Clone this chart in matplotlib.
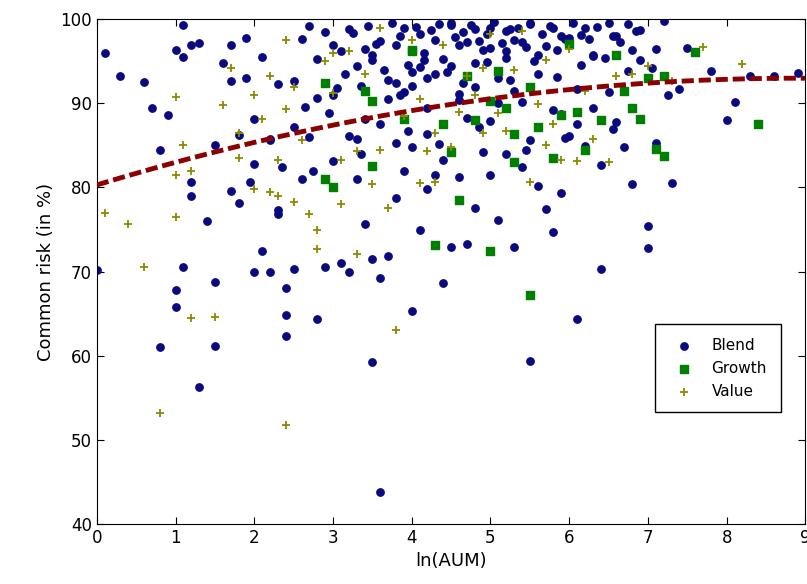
import matplotlib
matplotlib.use("Agg")
import matplotlib.pyplot as plt
import numpy as np

# Blend funds: ln(AUM), common risk (%)
blend_x = [0.0, 0.1, 0.3, 0.6, 0.7, 0.8, 0.8, 0.9, 1.0, 1.0, 1.0, 1.1, 1.1, 1.1, 1.2, 1.2, 1.3,
           1.3, 1.4, 1.5, 1.5, 1.5, 1.6, 1.7, 1.7, 1.8, 1.8, 1.9, 1.9, 2.0, 2.0, 2.0, 2.1, 2.1,
           2.2, 2.2, 2.3, 2.3, 2.3, 2.4, 2.4, 2.4, 2.5, 2.5, 2.6, 2.6, 2.7, 2.7, 2.8, 2.8, 2.9,
           2.9, 3.0, 3.0, 3.1, 3.1, 3.2, 3.2, 3.3, 3.3, 3.3, 3.4, 3.4, 3.5, 3.5, 3.5, 3.6, 3.6,
           3.6, 3.7, 3.7, 3.8, 3.8, 3.8, 3.9, 3.9, 4.0, 4.0, 4.0, 4.1, 4.1, 4.2, 4.2, 4.2, 4.3,
           4.3, 4.4, 4.4, 4.4, 4.5, 4.5, 4.6, 4.6, 4.6, 4.7, 4.7, 4.8, 4.8, 4.8, 4.9, 4.9, 5.0,
           5.0, 5.0, 5.1, 5.1, 5.2, 5.2, 5.2, 5.3, 5.3, 5.4, 5.4, 5.5, 5.5, 5.5, 5.6, 5.6, 5.7,
           5.7, 5.8, 5.8, 5.9, 5.9, 6.0, 6.0, 6.1, 6.1, 6.2, 6.2, 6.3, 6.4, 6.4, 6.5, 6.5, 6.6,
           6.7, 6.8, 6.8, 6.9, 7.0, 7.0, 7.1, 7.1, 7.2, 7.3, 7.4, 7.5, 7.8, 8.0, 8.1, 8.3, 8.6,
           8.9, 3.0, 3.5, 4.0, 4.5, 5.0, 5.5, 6.0, 3.2, 3.8, 4.3, 4.8, 5.3, 5.8, 6.3, 2.8, 3.4,
           4.1, 4.7, 5.1, 5.6, 6.6, 2.5, 3.9, 4.5, 5.2, 6.1, 1.2, 1.7, 2.2, 3.6, 6.9,
           3.25, 3.45, 3.55, 3.75, 3.85, 3.95, 4.05, 4.15, 4.25, 4.35, 4.55, 4.65, 4.75, 4.85,
           4.95, 5.05, 5.15, 5.25, 5.35, 5.45, 5.65, 5.75, 5.85, 5.95, 6.05, 6.15, 6.25, 6.35,
           6.55, 6.65, 6.75, 6.85, 3.15, 3.35, 3.65, 3.85, 4.15, 4.45, 4.65, 4.95, 5.25, 5.55,
           5.85, 6.15, 6.45, 6.75, 7.05, 2.65, 2.95, 3.05, 3.7, 4.2, 4.6, 5.4, 5.9, 6.3, 7.25,
           1.95, 2.35, 2.75, 3.35, 3.95, 4.35, 4.85, 5.45, 5.95, 6.55]
blend_y = [70.2, 96.0, 93.2, 92.6, 89.5, 61.0, 84.5, 88.6, 67.8, 96.4, 65.8, 70.5, 99.3, 95.5,
           80.6, 79.0, 56.3, 97.2, 76.0, 61.2, 68.8, 85.0, 94.8, 79.6, 97.0, 86.2, 78.2, 97.8,
           93.0, 70.0, 88.2, 82.8, 72.5, 95.5, 69.9, 85.8, 77.3, 76.8, 92.3, 64.8, 68.0, 62.3,
           70.3, 87.2, 97.6, 81.0, 99.2, 86.0, 64.3, 95.3, 70.6, 98.5, 83.2, 91.0, 71.0, 96.2,
           70.0, 86.1, 94.5, 85.8, 81.0, 88.2, 75.6, 59.3, 71.5, 95.8, 69.2, 87.6, 97.4, 71.8,
           92.8, 85.3, 78.8, 96.9, 99.0, 82.0, 65.3, 84.8, 92.1, 75.0, 98.2, 86.4, 79.8, 93.0,
           81.5, 97.5, 68.6, 83.3, 95.3, 72.9, 99.6, 81.3, 90.4, 97.0, 73.3, 88.3, 77.6, 94.8,
           98.8, 84.2, 96.3, 87.9, 99.0, 81.5, 93.0, 76.1, 84.0, 95.4, 98.6, 72.9, 91.5, 82.4,
           97.3, 59.4, 85.6, 99.5, 80.2, 93.5, 77.4, 96.8, 74.7, 89.2, 98.0, 79.3, 86.1, 97.8,
           64.3, 91.7, 84.9, 99.0, 95.6, 82.7, 70.3, 91.4, 99.6, 87.8, 84.8, 96.3, 80.4, 98.7,
           75.4, 72.8, 96.5, 85.3, 99.8, 80.5, 91.7, 96.6, 93.8, 88.0, 90.2, 93.2, 93.2, 93.6,
           97.0, 95.2, 93.7, 94.4, 96.6, 99.4, 97.0, 98.8, 92.4, 93.5, 91.9, 97.5, 99.0, 95.8,
           90.6, 96.5, 94.3, 97.3, 90.0, 95.7, 98.0, 92.7, 91.3, 99.3, 96.2, 87.5, 97.0, 92.7,
           85.6, 43.8, 95.1,
           98.4, 99.2, 97.1, 99.5, 98.0, 94.6, 99.1, 96.0, 98.7, 99.4, 97.9, 98.5, 99.3, 97.4,
           98.2, 99.7, 97.2, 98.9, 99.0, 96.7, 98.3, 99.2, 96.4, 97.7, 99.5, 98.1, 97.6, 99.1,
           98.0, 97.3, 99.4, 98.6, 93.5, 92.1, 94.0, 91.0, 95.2, 93.7, 92.4, 94.9, 92.8, 95.0,
           93.1, 94.6, 95.4, 93.9, 94.2, 89.6, 88.9, 91.8, 90.5, 89.4, 91.1, 90.2, 88.7, 89.5,
           91.0, 80.7, 82.4, 81.9, 84.0, 86.7, 85.2, 87.2, 84.5, 85.9, 87.0]

# Growth funds
growth_x = [2.9, 3.0, 2.9, 3.4, 3.5, 3.9, 4.0, 4.0, 4.3, 4.4, 4.6, 4.7, 4.8, 5.0, 5.0, 5.2,
            5.3, 5.3, 5.5, 5.5, 5.6, 5.8, 5.9, 6.0, 6.1, 6.2, 6.4, 6.6, 6.7, 6.8, 6.9, 7.0,
            7.1, 7.2, 7.2, 7.6, 8.4, 3.5, 4.5, 5.1]
growth_y = [81.0, 80.0, 92.4, 91.5, 90.3, 88.1, 96.3, 96.2, 73.2, 87.6, 78.5, 93.2, 88.0,
            90.3, 72.5, 89.5, 83.0, 86.4, 92.0, 67.2, 87.2, 83.5, 88.6, 97.1, 89.0, 84.5,
            88.0, 95.8, 91.5, 89.4, 88.2, 93.0, 84.6, 83.7, 93.3, 96.1, 87.5, 82.6, 84.2, 93.8]

# Value funds
value_x = [0.1, 0.4, 0.6, 0.8, 1.0, 1.0, 1.0, 1.1, 1.2, 1.2, 1.5, 1.6, 1.7, 1.8, 1.8, 2.0,
           2.0, 2.1, 2.2, 2.3, 2.3, 2.4, 2.4, 2.5, 2.5, 2.6, 2.7, 2.8, 2.8, 2.9, 3.0, 3.1, 3.1,
           3.2, 3.3, 3.3, 3.4, 3.5, 3.6, 3.6, 3.7, 3.8, 3.9, 4.0, 4.1, 4.2, 4.3, 4.3, 4.4, 4.5,
           4.6, 4.7, 4.8, 4.9, 5.0, 5.1, 5.2, 5.3, 5.4, 5.5, 5.6, 5.7, 5.8, 5.9, 6.0, 6.1, 6.2,
           6.3, 6.5, 6.6, 6.8, 7.0, 7.3, 7.7, 8.2, 2.4, 2.2, 3.0, 4.1, 4.9, 5.7]
value_y = [77.0, 75.7, 70.5, 53.2, 90.8, 76.5, 81.5, 85.1, 64.5, 82.0, 64.6, 89.8, 94.2,
           83.5, 86.5, 91.0, 79.8, 88.2, 93.2, 83.3, 79.0, 51.8, 89.3, 78.3, 92.0, 85.6, 76.9,
           72.7, 74.9, 95.0, 91.2, 83.3, 78.0, 96.2, 72.1, 84.3, 93.5, 80.4, 84.4, 99.0, 77.6,
           63.0, 88.5, 97.5, 80.5, 84.3, 80.7, 86.5, 97.0, 84.8, 89.0, 93.2, 91.0, 86.5, 98.2,
           88.8, 86.7, 94.0, 98.6, 80.6, 89.9, 85.0, 87.5, 83.3, 96.5, 83.2, 91.5, 85.8, 83.0,
           93.2, 93.5, 94.5, 92.7, 96.7, 94.7, 97.5, 79.5, 96.0, 90.5, 94.2, 95.1]

# quadratic fit shown as dashed curve
fit_coef = [80.3, 2.85, -0.16]

fig = plt.figure(figsize=(8.07, 5.84), dpi=100)
ax = fig.add_axes([0.12, 0.103, 0.878, 0.864])

ax.scatter(blend_x, blend_y, s=28, c="#0a0a80", marker="o", label="Blend", zorder=2)
ax.scatter(growth_x, growth_y, s=26, c="#008000", marker="s", label="Growth", zorder=3)
ax.scatter(value_x, value_y, s=34, c="#8a8a00", marker="+", linewidths=1.3,
           label="Value", zorder=4)

xs = np.linspace(0, 9, 200)
ax.plot(xs, fit_coef[0] + fit_coef[1] * xs + fit_coef[2] * xs ** 2,
        color="#8b0000", lw=3.5, ls=(0, (2.5, 1)), zorder=5)

ax.set_xlim(0, 9)
ax.set_ylim(40, 100)
ax.set_xticks(range(0, 10))
ax.set_yticks(range(40, 101, 10))
ax.tick_params(direction="in", labelsize=12, length=5, top=True, right=True)
ax.set_xlabel("ln(AUM)", fontsize=13)
ax.set_ylabel("Common risk (in %)", fontsize=13)

leg = ax.legend(loc="lower right", bbox_to_anchor=(0.976, 0.206), fontsize=11,
                fancybox=False, edgecolor="black", framealpha=1, borderpad=0.9)
leg.get_frame().set_linewidth(1)

fig.savefig("out.png", dpi=100)
